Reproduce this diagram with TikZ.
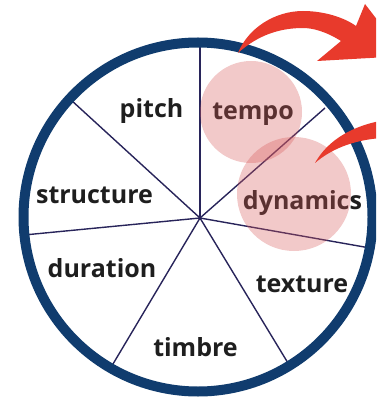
\documentclass[tikz,border=0pt]{standalone}
\usepackage{fontspec}
\setmainfont{Open Sans}
\definecolor{ringnavy}{RGB}{16,60,110}
\definecolor{spokecol}{RGB}{40,36,90}
\definecolor{arrowred}{RGB}{232,58,44}
\definecolor{pinkfill}{RGB}{215,90,90}
\definecolor{txt}{RGB}{30,30,30}
\begin{document}
\begin{tikzpicture}[x=1pt,y=-1pt,
  spoke/.style={draw=spokecol,line width=1.4pt},
  lbl/.style={font=\fontsize{25}{28}\selectfont\bfseries,text=txt,inner sep=0pt,anchor=base},
  hl/.style={fill=pinkfill,fill opacity=0.33},
  redarrow/.style={fill=arrowred,draw=none}]
\useasboundingbox (0,0) rectangle (376,403);
\clip (0,0) rectangle (376,403);
% hub and spoke ends
\coordinate (hub) at (200,218);
\coordinate (s1) at (200,44);
\coordinate (s2) at (71,100);
\coordinate (s3) at (24,235);
\coordinate (s4) at (110,369);
\coordinate (s5) at (291,368);
\coordinate (s6) at (370,248);
\coordinate (s7) at (325,108);
\foreach \s in {s1,s2,s3,s4,s5,s6,s7} \draw[spoke] (hub) -- (\s);
% ring
\draw[ringnavy,line width=10pt] (198,217) circle[radius=174.5pt];
% labels
\node[lbl] (pitch) at (151.5,118) {pitch};
\node[lbl] (tempo) at (253,120) {tempo};
\node[lbl] (structure) at (94.5,203) {structure};
\node[lbl] (dynamics) at (302.5,209) {dynamics};
\node[lbl] (duration) at (102,277) {duration};
\node[lbl] (texture) at (302,292) {texture};
\node[lbl] (timbre) at (195.5,356) {timbre};
% highlight circles
\fill[hl] (251,112) circle[radius=51pt];
\fill[hl] (294,194) circle[radius=57pt];
% top red arrow
\path[redarrow] (238,53) .. controls (248,28) and (275,11) .. (303,11)
  .. controls (325,11) and (345,18) .. (356,26)
  -- (365,4) -- (405,56) -- (317,61) -- (341,41)
  .. controls (325,31) and (312,28) .. (303,28)
  .. controls (280,28) and (258,35) .. (238,53) -- cycle;
% second red arrow
\path[redarrow] (315,163) .. controls (325,145) and (345,128) .. (380,121)
  -- (382,138) .. controls (352,140) and (330,150) .. (315,163) -- cycle;
\end{tikzpicture}
\end{document}
